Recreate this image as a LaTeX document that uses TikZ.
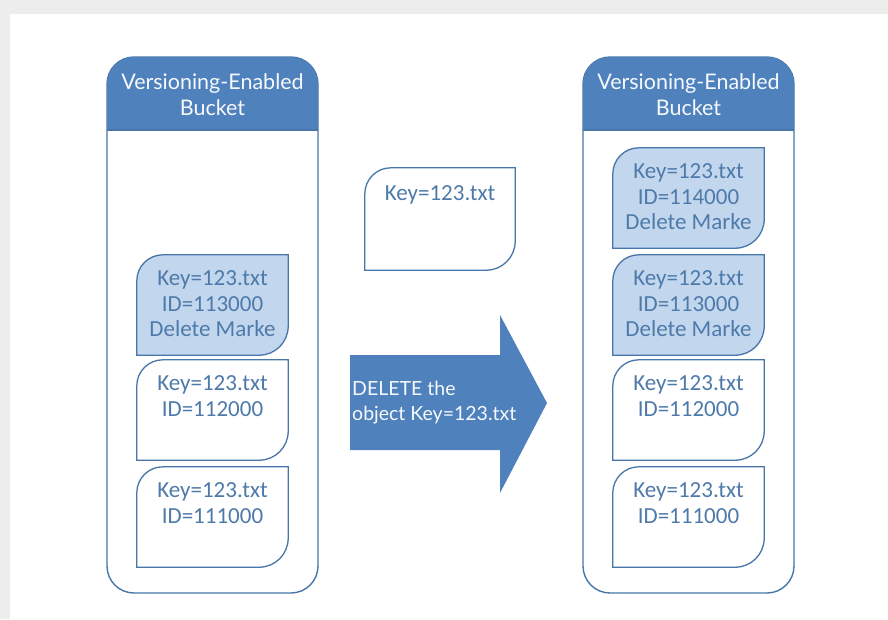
\documentclass[tikz,border=0pt]{standalone}
\usepackage{fontspec}
\newfontfamily\docfont{Carlito}
\newfontfamily\hdrfont{Lato}
\usepackage{tikz}
\usetikzlibrary{positioning, calc}

\definecolor{hdrblue}{RGB}{79,129,189}
\definecolor{edgeblue}{RGB}{72,118,168}
\definecolor{markfill}{RGB}{194,215,238}
\definecolor{doctext}{RGB}{78,122,170}

\tikzset{
	bucket/.style={draw=edgeblue, line width=1.4pt, rounded corners=27pt, minimum width=211pt, minimum height=536pt, inner sep=0pt},
	bucketcap/.style={font=\hdrfont\fontsize{21.5}{26}\selectfont, text=white!95!hdrblue, align=center},
	verdoc/.style={minimum width=151pt, minimum height=100pt, inner sep=0pt},
	doctxt/.style={font=\docfont\fontsize{23}{25.5}\selectfont, text=doctext, align=center, inner sep=0pt, anchor=north},
	docline/.style={draw=edgeblue, line width=1.3pt},
}

% document outline: round top-left and bottom-right corners
\newcommand{\docoutline}[2]{%
	\path[docline, fill=#2] (#1.south west) -- ([yshift=-26pt]#1.north west)
		arc[start angle=180, end angle=90, radius=26pt]
		-- (#1.north east) -- ([yshift=29pt]#1.south east)
		arc[start angle=0, end angle=-90, radius=29pt] -- cycle;}

\begin{document}
\begin{tikzpicture}[x=1pt, y=1pt]
	% page frame
	\fill[black!7] (0,0) rectangle (888,-619);
	\fill[white] (10,-14) rectangle (888,-619);
	\useasboundingbox (0,0) rectangle (888,-619);

	% left bucket
	\node[bucket] (lbk) at (212.5,-325) {};
	\fill[hdrblue, rounded corners=27pt] (107,-130) -- (107,-57) -- (318,-57) -- (318,-130);
	\draw[edgeblue, line width=1.4pt] (107,-130) -- (318,-130);
	\node[bucketcap] (lcap) at (212.5,-95) {Versioning-Enabled\\Bucket};

	% right bucket
	\node[bucket] (rbk) at (688.5,-325) {};
	\fill[hdrblue, rounded corners=27pt] (583,-130) -- (583,-57) -- (794,-57) -- (794,-130);
	\draw[edgeblue, line width=1.4pt] (583,-130) -- (794,-130);
	\node[bucketcap] (rcap) at (688.5,-95) {Versioning-Enabled\\Bucket};

	% versions in the left bucket
	\node[verdoc] (l3) at (212.5,-305) {};
	\node[verdoc] (l2) at (212.5,-410) {};
	\node[verdoc] (l1) at (212.5,-517) {};
	\docoutline{l3}{markfill}
	\docoutline{l2}{white}
	\docoutline{l1}{white}
	\node[doctxt] (l3t) at ([yshift=-16pt]l3.north) {Key=123.txt\\ID=113000\\Delete Marke};
	\node[doctxt] (l2t) at ([yshift=-16pt]l2.north) {Key=123.txt\\ID=112000};
	\node[doctxt] (l1t) at ([yshift=-16pt]l1.north) {Key=123.txt\\ID=111000};

	% versions in the right bucket
	\node[verdoc] (r4) at (688.5,-198) {};
	\node[verdoc] (r3) at (688.5,-305) {};
	\node[verdoc] (r2) at (688.5,-410) {};
	\node[verdoc] (r1) at (688.5,-517) {};
	\docoutline{r4}{markfill}
	\docoutline{r3}{markfill}
	\docoutline{r2}{white}
	\docoutline{r1}{white}
	\node[doctxt] (r4t) at ([yshift=-16pt]r4.north) {Key=123.txt\\ID=114000\\Delete Marke};
	\node[doctxt] (r3t) at ([yshift=-16pt]r3.north) {Key=123.txt\\ID=113000\\Delete Marke};
	\node[doctxt] (r2t) at ([yshift=-16pt]r2.north) {Key=123.txt\\ID=112000};
	\node[doctxt] (r1t) at ([yshift=-16pt]r1.north) {Key=123.txt\\ID=111000};

	% the request
	\node[verdoc, minimum width=150pt, minimum height=102pt] (req) at (440,-219) {};
	\docoutline{req}{white}
	\node[doctxt] (reqt) at ([yshift=-18pt]req.north) {Key=123.txt};

	% big arrow
	\coordinate (atip) at (547,-403);
	\fill[hdrblue] (350,-355) -- (500,-355) -- (500,-315) -- (atip)
		-- (500,-493) -- (500,-450) -- (350,-450) -- cycle;
	\node[font=\hdrfont\fontsize{19.5}{25}\selectfont, text=white!95!hdrblue, align=left, anchor=west, inner sep=2pt] (delnote) at (350,-403) {DELETE the\\object Key=123.txt};
\end{tikzpicture}
\end{document}
